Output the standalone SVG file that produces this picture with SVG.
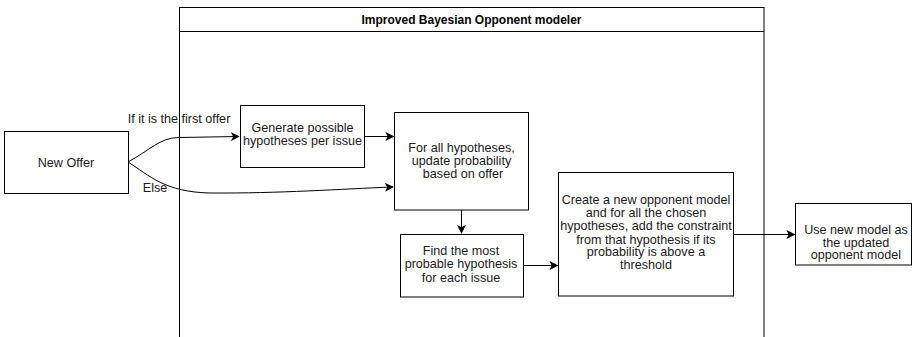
<svg xmlns="http://www.w3.org/2000/svg" width="912" height="337" viewBox="0 0 912 337">
  <style>
    .box { fill: #ffffff; stroke: #000000; stroke-width: 1; }
    .frame { fill: none; stroke: #000000; stroke-width: 1; }
    .lbl { font-family: "Liberation Sans", Arial, sans-serif; font-size: 12.6px; fill: #1a1a1a; text-anchor: middle; }
    .title { font-family: "Liberation Sans", Arial, sans-serif; font-size: 12px; font-weight: bold; fill: #000000; text-anchor: middle; }
    .edge { fill: none; stroke: #000000; stroke-width: 1; }
  </style>
  <defs>
    <marker id="arrow" viewBox="0 0 10 10" refX="9" refY="5" markerWidth="9" markerHeight="9" markerUnits="userSpaceOnUse" orient="auto">
      <path d="M0,0 L10,5 L0,10 L2.5,5 Z" fill="#000000"/>
    </marker>
  </defs>

  <rect width="912" height="337" fill="#ffffff"/>

  <!-- container: pool with header -->
  <g id="container">
    <rect class="frame" x="179.5" y="7.5" width="584.5" height="340"/>
    <line class="frame" x1="179.5" y1="31.5" x2="764" y2="31.5"/>
    <text class="title" x="471.5" y="24">Improved Bayesian Opponent modeler</text>
  </g>

  <!-- connectors -->
  <g id="connectors">
    <path class="edge" d="M128,162 C150,150 160,138 178,137.5 L239,136.5" marker-end="url(#arrow)"/>
    <path class="edge" d="M128,162 C150,176 165,192 210,193 C280,193.5 340,189 393,187" marker-end="url(#arrow)"/>
    <line class="edge" x1="364.5" y1="136.5" x2="393.5" y2="136.5" marker-end="url(#arrow)"/>
    <line class="edge" x1="461.5" y1="210" x2="461.5" y2="233" marker-end="url(#arrow)"/>
    <line class="edge" x1="523.5" y1="265.5" x2="557.5" y2="265.5" marker-end="url(#arrow)"/>
    <line class="edge" x1="734" y1="234.5" x2="794.5" y2="234.5" marker-end="url(#arrow)"/>
    <text class="lbl" x="179" y="122.5">If it is the first offer</text>
    <text class="lbl" x="155" y="191.5">Else</text>
  </g>

  <g id="new-offer">
    <rect class="box" x="4.5" y="131.5" width="124" height="62"/>
    <text class="lbl" x="66" y="166.5">New Offer</text>
  </g>

  <g id="generate">
    <rect class="box" x="240.5" y="105.5" width="124" height="62"/>
    <text class="lbl" x="302.5" y="132">Generate possible</text>
    <text class="lbl" x="302.5" y="144.5">hypotheses per issue</text>
  </g>

  <g id="update">
    <rect class="box" x="394.5" y="112.5" width="134" height="97.5"/>
    <text class="lbl" x="461.5" y="151.5">For all hypotheses,</text>
    <text class="lbl" x="461.5" y="165">update probability</text>
    <text class="lbl" x="463" y="177.5">based on offer</text>
  </g>

  <g id="find">
    <rect class="box" x="400.5" y="234.5" width="123" height="62.5"/>
    <text class="lbl" x="461" y="255">Find the most</text>
    <text class="lbl" x="461" y="268">probable hypothesis</text>
    <text class="lbl" x="461" y="281.5">for each issue</text>
  </g>

  <g id="create">
    <rect class="box" x="558.5" y="172.5" width="175" height="123.5"/>
    <text class="lbl" x="646" y="204">Create a new opponent model</text>
    <text class="lbl" x="646" y="217">and for all the chosen</text>
    <text class="lbl" x="646" y="230">hypotheses, add the constraint</text>
    <text class="lbl" x="646" y="243.5">from that hypothesis if its</text>
    <text class="lbl" x="646" y="256">probability is above a</text>
    <text class="lbl" x="646" y="269">threshold</text>
  </g>

  <g id="use-model">
    <rect class="box" x="795.5" y="203.5" width="116" height="61.5"/>
    <text class="lbl" x="856" y="234">Use new model as</text>
    <text class="lbl" x="856" y="246.5">the updated</text>
    <text class="lbl" x="856" y="259">opponent model</text>
  </g>
</svg>
